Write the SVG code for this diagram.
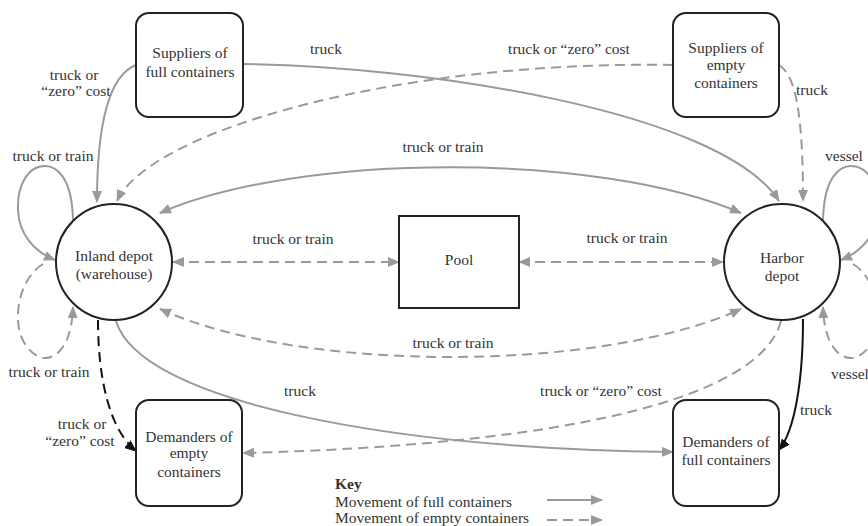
<svg xmlns="http://www.w3.org/2000/svg" width="868" height="526" viewBox="0 0 868 526">
<style>
text{font-family:"Liberation Serif","Times New Roman",serif;font-size:15.5px;fill:#333;text-anchor:middle}
.node{fill:#fff;stroke:#222;stroke-width:2}
.c{fill:none;stroke:#9a9a9a;stroke-width:2}
.d{stroke-dasharray:10 6}
.k{stroke:#111}
</style>
<defs>
<marker id="ag" viewBox="0 0 12 10" refX="11" refY="5" markerWidth="12" markerHeight="10" markerUnits="userSpaceOnUse" orient="auto-start-reverse"><path d="M0,0 L12,5 L0,10 z" fill="#9a9a9a"/></marker>
<marker id="ak" viewBox="0 0 12 10" refX="11" refY="5" markerWidth="12" markerHeight="10" markerUnits="userSpaceOnUse" orient="auto"><path d="M0,0 L12,5 L0,10 z" fill="#111"/></marker>
</defs>
<rect width="868" height="526" fill="#fff"/>
<g id="connectors">
<path class="c" d="M136,65 C110,75 97,120 97,202" marker-end="url(#ag)"/>
<path class="c" d="M243,64 C420,66 720,110 779,201" marker-end="url(#ag)"/>
<path class="c d" d="M673,65 C400,60 150,130 117,201" marker-end="url(#ag)"/>
<path class="c d" d="M779,65 C795,75 803,110 803,201" marker-end="url(#ag)"/>
<path class="c" d="M160,213 C300,152 600,152 741,213" marker-start="url(#ag)" marker-end="url(#ag)"/>
<path class="c d" d="M173,262 L399,262" marker-start="url(#ag)" marker-end="url(#ag)"/>
<path class="c d" d="M519,262 L723,262" marker-start="url(#ag)" marker-end="url(#ag)"/>
<path class="c d" d="M160,309 C300,373 600,373 741,309" marker-start="url(#ag)" marker-end="url(#ag)"/>
<path class="c" d="M116,321 C140,400 380,448 673,452" marker-end="url(#ag)"/>
<path class="c d" d="M781,321 C760,400 560,445 243,453" marker-end="url(#ag)"/>
<path class="c d k" d="M98,320 C98,380 110,430 136,451" marker-end="url(#ak)"/>
<path class="c k" d="M803,319 C803,380 795,430 779,450" marker-end="url(#ak)"/>
<path class="c" d="M73,220 C72,175 55,166 45,166 C28,166 17,185 18,210 C19,235 35,252 55,260" marker-end="url(#ag)"/>
<path class="c d" d="M43,264 C25,275 17,300 18,320 C19,345 35,358 45,358 C60,358 72,340 73,307" marker-end="url(#ag)"/>
<path class="c" d="M823,220 C824,175 841,166 851,166 C868,166 879,185 878,210 C877,235 861,252 841,260" marker-end="url(#ag)"/>
<path class="c d" d="M853,264 C871,275 879,300 878,320 C877,345 861,358 851,358 C836,358 824,340 823,307" marker-end="url(#ag)"/>
<path class="c" d="M547,500 L602,500" marker-end="url(#ag)"/>
<path class="c d" d="M547,520 L602,520" marker-end="url(#ag)"/>
</g>
<g id="labels">
<text x="74" y="80">truck or</text>
<text x="76" y="96">“zero” cost</text>
<text x="53" y="161">truck or train</text>
<text x="326" y="54">truck</text>
<text x="569" y="54">truck or “zero” cost</text>
<text x="812" y="95">truck</text>
<text x="844" y="161">vessel</text>
<text x="443" y="152">truck or train</text>
<text x="293" y="244">truck or train</text>
<text x="627" y="243">truck or train</text>
<text x="453" y="348">truck or train</text>
<text x="49" y="377">truck or train</text>
<text x="300" y="396">truck</text>
<text x="601" y="396">truck or “zero” cost</text>
<text x="850" y="379">vessel</text>
<text x="816" y="415">truck</text>
<text x="82" y="429">truck or</text>
<text x="80" y="446">“zero” cost</text>
<text x="335" y="489" style="text-anchor:start;font-weight:bold">Key</text>
<text x="335" y="507" style="text-anchor:start">Movement of full containers</text>
<text x="335" y="523" style="text-anchor:start">Movement of empty containers</text>
</g>
<g id="suppliers-full">
<rect class="node" x="136" y="13" width="107" height="104" rx="13"/>
<text x="190" y="58">Suppliers of</text>
<text x="190" y="77">full containers</text>
</g>
<g id="suppliers-empty">
<rect class="node" x="673" y="13" width="106" height="104" rx="13"/>
<text x="726" y="53">Suppliers of</text>
<text x="726" y="70">empty</text>
<text x="726" y="88">containers</text>
</g>
<g id="inland-depot">
<circle class="node" cx="114" cy="262" r="58"/>
<text x="114" y="261">Inland depot</text>
<text x="114" y="279">(warehouse)</text>
</g>
<g id="harbor-depot">
<circle class="node" cx="782" cy="262" r="58"/>
<text x="782" y="263">Harbor</text>
<text x="782" y="281">depot</text>
</g>
<g id="pool">
<rect class="node" x="399" y="216" width="120" height="92"/>
<text x="459" y="265">Pool</text>
</g>
<g id="demanders-empty">
<rect class="node" x="136" y="400" width="106" height="106" rx="13"/>
<text x="189" y="442">Demanders of</text>
<text x="189" y="458">empty</text>
<text x="189" y="477">containers</text>
</g>
<g id="demanders-full">
<rect class="node" x="673" y="400" width="106" height="106" rx="13"/>
<text x="726" y="447">Demanders of</text>
<text x="726" y="465">full containers</text>
</g>
</svg>
